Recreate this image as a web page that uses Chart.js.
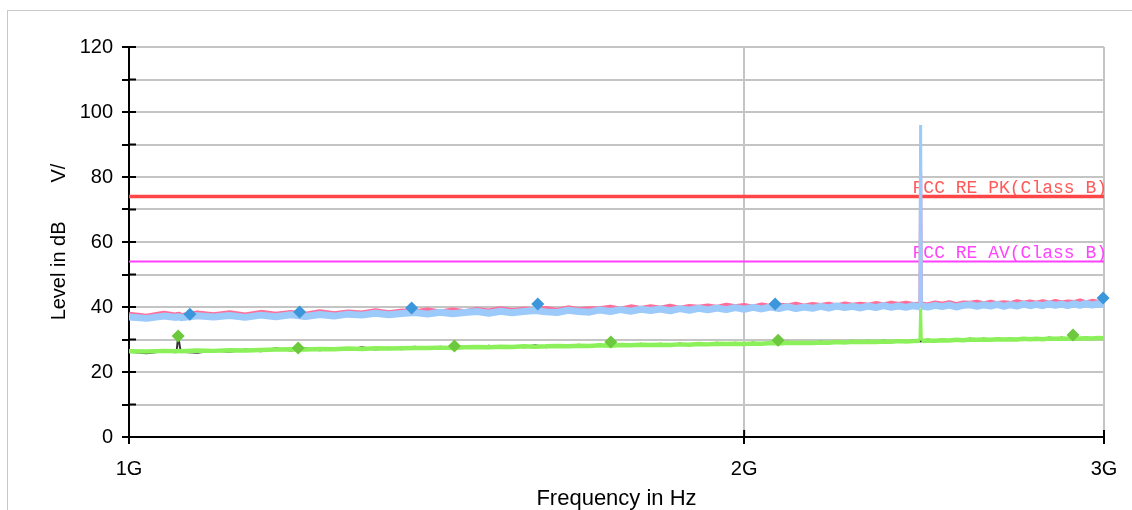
<!DOCTYPE html>
<html lang="en">
<head>
  <meta charset="UTF-8">
  <title>Radiated Emission 1G-3G</title>
  <style>
    html, body {
      margin: 0;
      padding: 0;
      background: #fff;
      overflow: hidden;
    }
    .frame {
      position: absolute;
      left: 7px;
      top: 10px;
      width: 1200px;
      height: 600px;
      border: 1px solid #c8c8c8;
    }
    .chart-box {
      position: absolute;
      left: 0;
      top: 0;
      width: 1132px;
      height: 522px;
    }
  </style>
  <script src="https://cdn.jsdelivr.net/npm/chart.js"></script>
</head>
<body>
  <div class="frame"></div>
  <div class="chart-box"><canvas id="emiChart"></canvas></div>

  <script>
    // sweep frequencies in GHz
    const freqGHz = [
      1.00, 1.02, 1.04, 1.055, 1.057, 1.06, 1.08,
      1.10, 1.12, 1.14, 1.16, 1.18,
      1.20, 1.22, 1.24, 1.26, 1.28,
      1.30, 1.32, 1.34, 1.36, 1.38,
      1.40, 1.42, 1.44, 1.46, 1.48,
      1.50, 1.52, 1.54, 1.56, 1.58,
      1.60, 1.62, 1.64, 1.66, 1.68,
      1.70, 1.72, 1.74, 1.76, 1.78,
      1.80, 1.82, 1.84, 1.86, 1.88,
      1.90, 1.92, 1.94, 1.96, 1.98,
      2.00, 2.02, 2.04, 2.06, 2.08,
      2.10, 2.12, 2.14, 2.16, 2.18,
      2.20, 2.22, 2.24, 2.26, 2.28,
      2.30, 2.32, 2.34, 2.36, 2.38,
      2.40, 2.42, 2.438, 2.44, 2.442, 2.46, 2.48,
      2.50, 2.52, 2.54, 2.56, 2.58,
      2.60, 2.62, 2.64, 2.66, 2.68,
      2.70, 2.72, 2.74, 2.76, 2.78,
      2.80, 2.82, 2.84, 2.86, 2.88,
      2.90, 2.92, 2.94, 2.96, 2.98,
      3.00
    ];

    // peak trace (light blue)
    const peakBlue = [
      36.9, 36.5, 37.2, 36.8, 37.1, 36.7, 37.3,
      36.9, 37.4, 36.8, 37.5, 37.0,
      37.6, 37.1, 37.7, 37.2, 37.8,
      37.5, 38.1, 37.6, 38.0, 38.3,
      37.8, 38.4, 37.9, 38.3, 38.6,
      38.1, 38.7, 38.2, 38.6, 38.9,
      38.5, 38.3, 39.0, 38.6, 38.4,
      39.1, 38.6, 39.2, 38.7, 39.3,
      38.9, 39.4, 38.8, 39.5, 39.0,
      39.6, 39.1, 39.7, 39.2, 39.8,
      39.3, 39.9, 39.4, 40.0, 39.5,
      40.1, 39.5, 40.0, 39.6, 40.2,
      39.7, 40.3, 39.8, 40.2, 39.7,
      40.3, 39.8, 40.4, 39.9, 40.3,
      39.9, 40.4, 40.1, 96.0, 40.3, 40.0, 40.5,
      40.1, 40.6, 40.0, 40.5, 40.7,
      40.2, 40.7, 40.3, 40.8, 40.2,
      40.7, 40.3, 40.9, 40.4, 40.8,
      40.4, 41.0, 40.5, 40.9, 40.4,
      41.0, 40.5, 41.1, 40.6, 41.0,
      40.8
    ];

    // peak trace (pink, mostly under the blue one)
    const peakPink = [
      37.6, 37.0, 37.9, 37.3, 37.8, 37.2, 38.0,
      37.5, 38.1, 37.4, 38.2, 37.6,
      38.2, 37.6, 38.4, 37.8, 38.3,
      38.0, 38.7, 38.1, 38.6, 38.4,
      38.9, 38.3, 38.9, 38.4, 39.1,
      38.6, 39.3, 38.7, 39.2, 39.0,
      39.4, 38.8, 39.6, 39.0, 39.3,
      39.3, 39.8, 39.2, 39.9, 39.4,
      39.9, 39.5, 40.1, 39.4, 40.0,
      39.8, 40.2, 39.7, 40.4, 39.9,
      40.3, 39.8, 40.5, 40.0, 40.4,
      40.2, 40.7, 40.1, 40.6, 40.3,
      40.7, 40.2, 40.8, 40.4, 40.7,
      40.4, 40.9, 40.5, 41.0, 40.6,
      41.0, 40.6, 40.7, 82.0, 40.8, 40.5, 41.1,
      40.7, 41.2, 40.6, 41.1, 41.0,
      41.3, 40.8, 41.3, 40.9, 41.2,
      40.9, 41.5, 41.0, 41.4, 41.0,
      41.5, 41.0, 41.6, 41.1, 41.4,
      41.2, 41.7, 41.1, 41.6, 41.3,
      41.4
    ];

    // average trace (green)
    const avgGreen = [
      26.4, 26.3, 26.5, 26.4, 26.5, 26.4, 26.6,
      26.5, 26.7, 26.6, 26.8, 26.9,
      27.0, 26.9, 27.1, 27.0, 27.2,
      27.1, 27.3, 27.2, 27.3, 27.4,
      27.4, 27.5, 27.4, 27.6, 27.7,
      27.6, 27.8, 27.7, 27.9, 27.8,
      27.9, 28.0, 27.9, 28.1, 28.0,
      28.2, 28.1, 28.3, 28.2, 28.4,
      28.3, 28.4, 28.3, 28.5, 28.4,
      28.6, 28.5, 28.7, 28.6, 28.7,
      28.6, 28.8, 28.7, 28.9, 28.8,
      29.0, 28.9, 29.0, 28.9, 29.1,
      29.0, 29.2, 29.1, 29.3, 29.2,
      29.3, 29.2, 29.4, 29.3, 29.5,
      29.4, 29.5, 29.6, 39.5, 29.6, 29.7, 29.6,
      29.8, 29.7, 29.9, 29.8, 30.0,
      29.9, 30.0, 29.9, 30.1, 30.0,
      30.1, 30.0, 30.2, 30.1, 30.2,
      30.1, 30.3, 30.2, 30.3, 30.2,
      30.4, 30.3, 30.4, 30.3, 30.5,
      30.4
    ];

    // average trace (black, mostly under the green one)
    const avgBlack = [
      26.2, 25.8, 26.4, 26.1, 31.0, 26.2, 25.9,
      26.6, 26.2, 26.9, 26.4, 27.3,
      26.6, 27.3, 26.7, 27.4, 26.8,
      27.6, 26.9, 27.5, 27.0, 27.8,
      27.1, 27.8, 27.2, 27.9, 27.4,
      28.1, 27.4, 28.0, 27.6, 28.2,
      27.6, 28.3, 27.7, 28.4, 27.8,
      28.5, 27.9, 28.6, 28.0, 28.7,
      28.1, 28.7, 28.0, 28.8, 28.2,
      28.9, 28.3, 29.0, 28.4, 29.0,
      28.4, 29.1, 28.5, 29.2, 28.6,
      29.3, 28.7, 29.2, 28.6, 29.4,
      28.8, 29.5, 28.9, 29.6, 29.0,
      29.6, 29.0, 29.7, 29.1, 29.8,
      29.2, 29.7, 29.3, 30.4, 29.4, 30.0, 29.4,
      30.1, 29.5, 30.2, 29.6, 30.3,
      29.7, 30.3, 29.7, 30.4, 29.8,
      30.4, 29.8, 30.5, 29.9, 30.5,
      29.9, 30.6, 30.0, 30.6, 30.0,
      30.7, 30.1, 30.7, 30.1, 30.8,
      30.2
    ];

    // final measurement markers
    const pkMarkGHz = [1.071, 1.212, 1.375, 1.585, 2.071, 2.997];
    const pkMarkLevel = [37.8, 38.5, 39.7, 40.9, 40.9, 42.8];
    const avMarkGHz = [1.057, 1.210, 1.443, 1.721, 2.078, 2.897];
    const avMarkLevel = [31.1, 27.4, 28.0, 29.2, 29.8, 31.4];

    // limit lines
    const limitGHz = [1.0, 3.0];
    const limitNames = ['FCC RE PK(Class B)', 'FCC RE AV(Class B)'];
    const limitLevels = [74, 54];

    const xTicksGHz = [1, 2, 3];

    const pts = (xs, ys) => xs.map((f, i) => ({ x: f * 1e9, y: ys[i] }));
    const flat = (level) => limitGHz.map(f => ({ x: f * 1e9, y: level }));

    Chart.defaults.font.family = "'Liberation Sans', Arial, sans-serif";
    Chart.defaults.color = '#000';

    // label text above each limit line
    const limitLabels = {
      id: 'limitLabels',
      beforeDatasetsDraw(chart) {
        const { ctx, chartArea, scales: { y } } = chart;
        const colors = ['#ff5a5a', '#ff44ff'];
        ctx.save();
        ctx.font = "18px 'Liberation Mono', monospace";
        ctx.textAlign = 'right';
        ctx.textBaseline = 'alphabetic';
        limitNames.forEach((name, i) => {
          ctx.fillStyle = colors[i];
          ctx.fillText(name, chartArea.right + 3, y.getPixelForValue(limitLevels[i]) - 4);
        });
        ctx.restore();
      }
    };

    // tick marks crossing into the plot area
    const innerTicks = {
      id: 'innerTicks',
      beforeDatasetsDraw(chart) {
        const { ctx, chartArea: a, scales: { x, y } } = chart;
        ctx.save();
        ctx.strokeStyle = '#000';
        ctx.lineWidth = 2;
        ctx.beginPath();
        y.ticks.forEach(t => {
          const py = y.getPixelForValue(t.value);
          ctx.moveTo(a.left, py);
          ctx.lineTo(a.left + 7, py);
        });
        x.ticks.forEach(t => {
          const px = x.getPixelForValue(t.value);
          ctx.moveTo(px, a.bottom);
          ctx.lineTo(px, a.bottom - 7);
        });
        ctx.stroke();
        ctx.restore();
      }
    };

    // thinner stroke on the narrow 2.44G spike
    const spikeWidth = (limit, w) => ctx =>
      (ctx.p0.parsed.y > limit || ctx.p1.parsed.y > limit) ? w : undefined;

    const trace = (data, color, width, order, spike) => ({
      data,
      borderColor: color,
      backgroundColor: color,
      borderWidth: width,
      borderJoinStyle: 'bevel',
      pointRadius: 0,
      tension: 0,
      segment: spike ? { borderWidth: spikeWidth(spike[0], spike[1]) } : undefined,
      order
    });

    const marker = (data, color) => ({
      data,
      showLine: false,
      pointStyle: 'rectRot',
      pointRadius: 6.5,
      pointBorderWidth: 0,
      pointBackgroundColor: color,
      pointBorderColor: color,
      clip: false,
      order: 0
    });

    const ctx = document.getElementById('emiChart').getContext('2d');
    new Chart(ctx, {
      type: 'line',
      data: {
        datasets: [
          marker(pts(pkMarkGHz, pkMarkLevel), '#3b96dc'),
          marker(pts(avMarkGHz, avMarkLevel), '#6cc83c'),
          trace(pts(freqGHz, peakBlue), '#9ccafa', 7, 2, [50, 3]),
          trace(pts(freqGHz, peakPink), '#ff6f9a', 6, 3, [50, 3]),
          trace(pts(freqGHz, avgGreen), '#8cf05a', 4.5, 1, [35, 3]),
          trace(pts(freqGHz, avgBlack), '#333333', 2, 4),
          trace(flat(limitLevels[0]), '#ff4545', 3.5, 5),
          trace(flat(limitLevels[1]), '#ff40ff', 2, 6)
        ]
      },
      options: {
        responsive: true,
        maintainAspectRatio: false,
        animation: false,
        layout: {
          padding: { top: 47, right: 28, bottom: 0, left: 0 }
        },
        plugins: {
          legend: { display: false },
          tooltip: { enabled: false }
        },
        scales: {
          x: {
            type: 'logarithmic',
            min: 1e9,
            max: 3e9,
            afterBuildTicks: s => { s.ticks = xTicksGHz.map(v => ({ value: v * 1e9 })); },
            afterFit: s => { s.height = 85; },
            ticks: {
              autoSkip: false,
              maxRotation: 0,
              padding: 13,
              font: { size: 20 },
              callback: v => (v / 1e9) + 'G'
            },
            grid: {
              color: '#c4c4c4',
              lineWidth: 2,
              tickColor: '#000',
              tickLength: 7,
              tickWidth: 2
            },
            border: { color: '#000', width: 2 },
            title: {
              display: true,
              text: 'Frequency in Hz',
              font: { size: 22 },
              padding: { top: 0, bottom: 10 }
            }
          },
          y: {
            min: 0,
            max: 120,
            afterFit: s => { s.width = 129; },
            ticks: {
              stepSize: 10,
              padding: 9,
              font: { size: 20 },
              callback: v => (v % 20 === 0 ? v : '')
            },
            grid: {
              color: '#c4c4c4',
              lineWidth: 2,
              tickColor: '#000',
              tickLength: 7,
              tickWidth: 2
            },
            border: { color: '#000', width: 2 },
            title: {
              display: true,
              text: 'Level in dB       V/',
              font: { size: 20 },
              padding: { top: 47, bottom: 0 }
            }
          }
        }
      },
      plugins: [limitLabels, innerTicks]
    });
  </script>
</body>
</html>
